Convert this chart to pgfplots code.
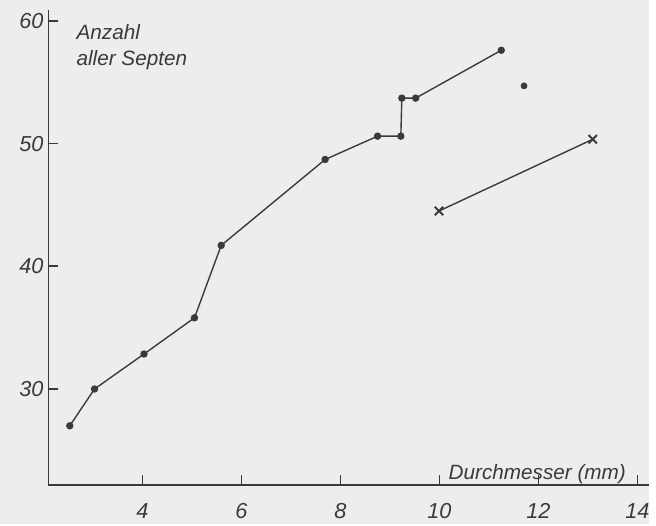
\documentclass[border=0pt]{standalone}
\usepackage{pgfplots}
\pgfplotsset{compat=1.18}
\usepackage{fontspec}
\setmainfont{Liberation Sans}
\definecolor{paper}{HTML}{EDEDEB}
\definecolor{ink}{HTML}{3A3A3A}
\begin{document}
\begin{tikzpicture}
\fill[paper] (0bp,0bp) rectangle (328bp,264.5bp);
\begin{axis}[
  at={(24.5bp,19.5bp)}, anchor=origin,
  scale only axis, width=303.5bp, height=240bp,
  xmin=2.1, xmax=14.24, ymin=22.18, ymax=60.89,
  axis lines*=left,
  axis line style={ink, line width=1bp},
  xtick={4,6,8,10,12,14}, ytick={30,40,50,60},
  xmajorticks=true, ymajorticks=true,
  tick align=inside,
  major tick length=5bp,
  every tick/.style={draw=ink, line width=0.8bp},
  /pgf/number format/assume math mode=true,
  tick label style={font=\itshape\fontsize{11}{11}\selectfont, text=ink},
  xticklabel style={yshift=-6bp},
  yticklabel style={xshift=1bp},
  clip=false,
]
\addplot[ink, line width=0.7bp, mark=*, mark size=1.5bp, mark options={fill=ink}] coordinates {
 (2.53,27.0) (3.03,30.0) (4.03,32.85) (5.05,35.8) (5.59,41.7) (7.69,48.7)
 (8.75,50.6) (9.22,50.6) (9.24,53.7) (9.52,53.7) (11.25,57.6)
};
\addplot[ink, only marks, mark=*, mark size=1.5bp, mark options={fill=ink}] coordinates {
 (11.71,54.7)
};
\addplot[ink, line width=0.7bp, mark=x, mark size=3bp, mark options={line width=1bp}] coordinates {
 (9.99,44.5) (13.1,50.35)
};
\end{axis}
\node[anchor=base west, inner sep=0, text=ink, font=\itshape\fontsize{10.5}{10.5}\selectfont] at (38.5bp,244.5bp) {Anzahl};
\node[anchor=base west, inner sep=0, text=ink, font=\itshape\fontsize{10.5}{10.5}\selectfont] at (38.5bp,231.5bp) {aller Septen};
\node[anchor=base west, inner sep=0, text=ink, font=\itshape\fontsize{10.5}{10.5}\selectfont] at (226.5bp,22.5bp) {Durchmesser (mm)};
\end{tikzpicture}
\end{document}
